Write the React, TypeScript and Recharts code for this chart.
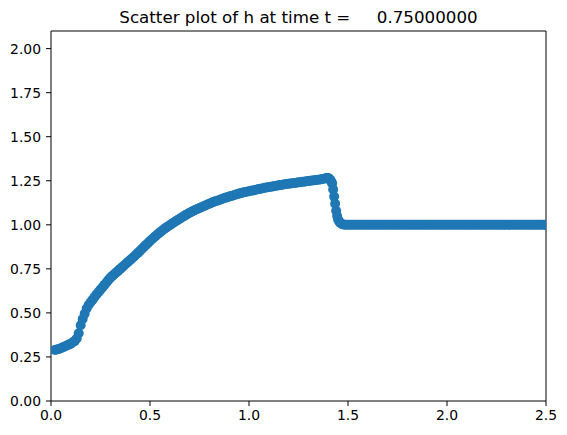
import { ReferenceLine, Scatter, ScatterChart, XAxis, YAxis } from "recharts";

// x positions of the scatter points
const xValues = [
  0.02, 0.03, 0.04, 0.05, 0.06, 0.07, 0.08, 0.09, 0.1,
  0.11, 0.12, 0.13, 0.14, 0.15, 0.16, 0.17, 0.18, 0.19, 0.2,
  0.21, 0.22, 0.23, 0.24, 0.25, 0.26, 0.27, 0.28, 0.29, 0.3,
  0.31, 0.32, 0.33, 0.34, 0.35, 0.36, 0.37, 0.38, 0.39, 0.4,
  0.41, 0.42, 0.43, 0.44, 0.45, 0.46, 0.47, 0.48, 0.49, 0.5,
  0.51, 0.52, 0.53, 0.54, 0.55, 0.56, 0.57, 0.58, 0.59, 0.6,
  0.61, 0.62, 0.63, 0.64, 0.65, 0.66, 0.67, 0.68, 0.69, 0.7,
  0.71, 0.72, 0.73, 0.74, 0.75, 0.76, 0.77, 0.78, 0.79, 0.8,
  0.81, 0.82, 0.83, 0.84, 0.85, 0.86, 0.87, 0.88, 0.89, 0.9,
  0.91, 0.92, 0.93, 0.94, 0.95, 0.96, 0.97, 0.98, 0.99, 1.0,
  1.01, 1.02, 1.03, 1.04, 1.05, 1.06, 1.07, 1.08, 1.09, 1.1,
  1.11, 1.12, 1.13, 1.14, 1.15, 1.16, 1.17, 1.18, 1.19, 1.2,
  1.21, 1.22, 1.23, 1.24, 1.25, 1.26, 1.27, 1.28, 1.29, 1.3,
  1.31, 1.32, 1.33, 1.34, 1.35, 1.36, 1.37, 1.38, 1.39, 1.4,
  1.405, 1.41, 1.415, 1.42, 1.425, 1.43, 1.435, 1.44, 1.445, 1.45,
  1.455, 1.46, 1.47, 1.48, 1.49,
  1.5, 1.51, 1.52, 1.53, 1.54, 1.55, 1.56, 1.57, 1.58, 1.59,
  1.6, 1.61, 1.62, 1.63, 1.64, 1.65, 1.66, 1.67, 1.68, 1.69,
  1.7, 1.71, 1.72, 1.73, 1.74, 1.75, 1.76, 1.77, 1.78, 1.79,
  1.8, 1.81, 1.82, 1.83, 1.84, 1.85, 1.86, 1.87, 1.88, 1.89,
  1.9, 1.91, 1.92, 1.93, 1.94, 1.95, 1.96, 1.97, 1.98, 1.99,
  2.0, 2.01, 2.02, 2.03, 2.04, 2.05, 2.06, 2.07, 2.08, 2.09,
  2.1, 2.11, 2.12, 2.13, 2.14, 2.15, 2.16, 2.17, 2.18, 2.19,
  2.2, 2.21, 2.22, 2.23, 2.24, 2.25, 2.26, 2.27, 2.28, 2.29,
  2.3, 2.31, 2.32, 2.33, 2.34, 2.35, 2.36, 2.37, 2.38, 2.39,
  2.4, 2.41, 2.42, 2.43, 2.44, 2.45, 2.46, 2.47, 2.48, 2.49,
  2.495,
];

// h at each x
const hValues = [
  0.29, 0.292, 0.295, 0.3, 0.305, 0.31, 0.315, 0.32, 0.325,
  0.333, 0.34, 0.355, 0.385, 0.43, 0.465, 0.495, 0.525, 0.545, 0.56,
  0.575, 0.59, 0.605, 0.619, 0.632, 0.645, 0.659, 0.673, 0.687, 0.7,
  0.71, 0.72, 0.73, 0.74, 0.75, 0.76, 0.77, 0.78, 0.79, 0.8,
  0.81, 0.82, 0.831, 0.842, 0.853, 0.864, 0.875, 0.886, 0.897, 0.908,
  0.918, 0.928, 0.938, 0.948, 0.957, 0.966, 0.975, 0.983, 0.991, 0.998,
  1.006, 1.013, 1.02, 1.027, 1.034, 1.041, 1.048, 1.055, 1.062, 1.068,
  1.074, 1.08, 1.085, 1.09, 1.095, 1.1, 1.105, 1.11, 1.115, 1.12,
  1.125, 1.13, 1.134, 1.137, 1.141, 1.145, 1.149, 1.153, 1.157, 1.16,
  1.164, 1.167, 1.171, 1.174, 1.177, 1.18, 1.183, 1.186, 1.188, 1.19,
  1.193, 1.195, 1.198, 1.2, 1.203, 1.205, 1.208, 1.21, 1.212, 1.214,
  1.216, 1.218, 1.22, 1.222, 1.224, 1.226, 1.228, 1.23, 1.232, 1.233,
  1.235, 1.236, 1.238, 1.239, 1.241, 1.242, 1.244, 1.245, 1.247, 1.248,
  1.25, 1.251, 1.253, 1.254, 1.256, 1.257, 1.26, 1.262, 1.265, 1.266,
  1.262, 1.255, 1.247, 1.235, 1.2, 1.16, 1.12, 1.08, 1.05, 1.03,
  1.02, 1.012, 1.004, 1.001, 1.0,
  1.0, 1.0, 1.0, 1.0, 1.0, 1.0, 1.0, 1.0, 1.0, 1.0,
  1.0, 1.0, 1.0, 1.0, 1.0, 1.0, 1.0, 1.0, 1.0, 1.0,
  1.0, 1.0, 1.0, 1.0, 1.0, 1.0, 1.0, 1.0, 1.0, 1.0,
  1.0, 1.0, 1.0, 1.0, 1.0, 1.0, 1.0, 1.0, 1.0, 1.0,
  1.0, 1.0, 1.0, 1.0, 1.0, 1.0, 1.0, 1.0, 1.0, 1.0,
  1.0, 1.0, 1.0, 1.0, 1.0, 1.0, 1.0, 1.0, 1.0, 1.0,
  1.0, 1.0, 1.0, 1.0, 1.0, 1.0, 1.0, 1.0, 1.0, 1.0,
  1.0, 1.0, 1.0, 1.0, 1.0, 1.0, 1.0, 1.0, 1.0, 1.0,
  1.0, 1.0, 1.0, 1.0, 1.0, 1.0, 1.0, 1.0, 1.0, 1.0,
  1.0, 1.0, 1.0, 1.0, 1.0, 1.0, 1.0, 1.0, 1.0, 1.0,
  1.0,
];

const xTicks = [0, 0.5, 1, 1.5, 2, 2.5];
const yTicks = [0, 0.25, 0.5, 0.75, 1, 1.25, 1.5, 1.75, 2];

const TITLE = "Scatter plot of h at time t =     0.75000000";
const BLUE = "#1f77b4";
const FONT = "'DejaVu Sans', sans-serif";

const data = xValues.map((x, i) => ({ x, h: hValues[i] }));

const tickStyle = { fill: "#000", fontSize: 13.9, fontFamily: FONT };

export default function App() {
  return (
    <div style={{ position: "absolute", left: 0, top: 0, width: 567, height: 435, background: "#fff" }}>
      <div
        style={{
          position: "absolute",
          left: 51,
          width: 495,
          top: 7,
          textAlign: "center",
          whiteSpace: "pre",
          fontFamily: FONT,
          fontSize: 16.7,
          color: "#000",
        }}
      >
        {TITLE}
      </div>
      <ScatterChart width={567} height={435} margin={{ top: 31, right: 21, bottom: 0, left: 0 }}>
        <XAxis
          type="number"
          dataKey="x"
          domain={[0, 2.5]}
          ticks={xTicks}
          interval={0}
          tickFormatter={(v: number) => v.toFixed(1)}
          height={34}
          tickSize={5}
          tickMargin={4}
          stroke="#000"
          tick={tickStyle}
          allowDataOverflow
        />
        <YAxis
          type="number"
          dataKey="h"
          domain={[0, 2.1]}
          ticks={yTicks}
          interval={0}
          tickFormatter={(v: number) => v.toFixed(2)}
          width={51}
          tickSize={5}
          tickMargin={5}
          stroke="#000"
          tick={tickStyle}
          allowDataOverflow
        />
        <ReferenceLine y={2.1} stroke="#000" />
        <ReferenceLine x={2.5} stroke="#000" />
        <Scatter
          data={data}
          isAnimationActive={false}
          fill={BLUE}
          shape={(p: any) => <circle cx={p.cx} cy={p.cy} r={5} fill={BLUE} />}
        />
      </ScatterChart>
    </div>
  );
}
